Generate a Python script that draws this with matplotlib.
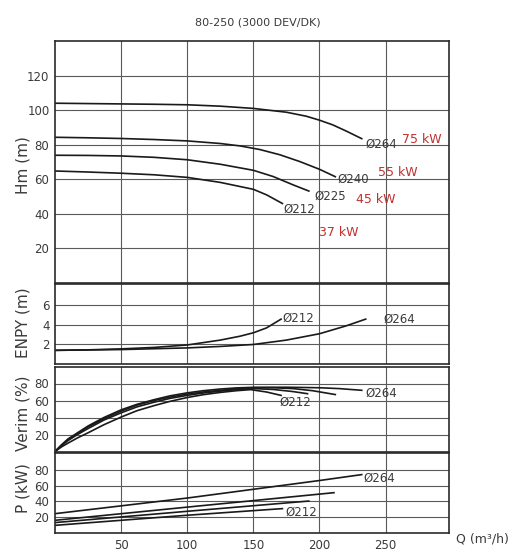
import matplotlib
matplotlib.use("Agg")
import matplotlib.pyplot as plt

# x axis
q_ticks = [50, 100, 150, 200, 250]

# head curves (Hm)
q_h264 = [0, 25, 50, 75, 100, 125, 150, 175, 190, 200, 210, 220, 232]
h_264 = [104, 103.8, 103.6, 103.4, 103.1, 102.3, 101.0, 98.8, 96.5, 94.2, 91.5, 88.0, 83.5]
q_h240 = [0, 25, 50, 75, 100, 125, 140, 155, 170, 185, 200, 212]
h_240 = [84.3, 84.0, 83.6, 83.0, 82.2, 80.7, 79.3, 77.2, 74.2, 70.3, 65.8, 61.5]
q_h225 = [0, 25, 50, 75, 100, 125, 150, 165, 180, 192]
h_225 = [73.9, 73.8, 73.5, 72.7, 71.3, 68.7, 65.2, 61.6, 56.8, 53.2]
q_h212 = [0, 25, 50, 75, 100, 125, 150, 160, 172]
h_212 = [64.8, 64.2, 63.5, 62.6, 61.1, 58.2, 54.2, 51.0, 46.0]

# NPSH
q_n212 = [0, 25, 50, 75, 100, 125, 140, 150, 160, 171]
n_212 = [1.4, 1.45, 1.55, 1.7, 1.95, 2.45, 2.85, 3.2, 3.7, 4.6]
q_n264 = [0, 50, 100, 125, 150, 175, 200, 220, 235]
n_264 = [1.4, 1.48, 1.65, 1.8, 2.0, 2.45, 3.1, 3.9, 4.6]

# efficiency
q_e212 = [0, 5, 10, 17, 25, 37, 50, 62, 75, 87, 100, 112, 125, 137, 148, 160, 171]
e_212 = [0, 5.5, 10, 16, 22, 31.5, 40.5, 48, 54, 59, 63.5, 66.8, 69.5, 71.5, 72.8, 70, 66]
q_e225 = [0, 5, 10, 17, 25, 37, 50, 62, 75, 87, 100, 112, 125, 137, 150, 165, 180, 191]
e_225 = [0, 7, 13, 20, 27, 37, 45.5, 52.5, 58, 62.5, 66, 68.8, 71, 72.8, 74, 73, 70.5, 68]
q_e240 = [0, 5, 10, 17, 25, 37, 50, 62, 75, 87, 100, 112, 125, 137, 150, 165, 180, 195, 212]
e_240 = [0, 7.5, 14, 21, 29, 38.5, 47.5, 54.5, 60, 64, 67.5, 70, 72, 73.8, 75, 75, 74, 71.5, 67]
q_e264 = [0, 5, 10, 17, 25, 37, 50, 62, 75, 87, 100, 112, 125, 137, 150, 175, 200, 215, 232]
e_264 = [0, 8, 15, 22, 30, 40, 49, 55.5, 61, 65.5, 69, 71.5, 73.5, 74.8, 75.5, 75.6, 75, 74, 72]

# power
q_p264 = [0, 100, 200, 232]
p_264 = [24.5, 44.3, 66.5, 74]
q_p240 = [0, 100, 211]
p_240 = [16.1, 32.8, 51.1]
q_p225 = [0, 100, 192]
p_225 = [13.2, 27.5, 40.5]
q_p212 = [0, 100, 172]
p_212 = [9.7, 22.5, 30.9]

dia = "\u00d8"
txt = "#3a3a3a"
red = "#c0302e"

fig = plt.figure(figsize=(5.31, 5.53), dpi=100)

W, H = 531, 553
def box(top, bottom, left=55, right=449):
    return [left / W, 1 - bottom / H, (right - left) / W, (bottom - top) / H]

ax1 = fig.add_axes(box(41, 283))
ax2 = fig.add_axes(box(284, 364))
ax3 = fig.add_axes(box(366.5, 451.5))
ax4 = fig.add_axes(box(453.3, 533))

setup = [
    (ax1, (0, 140), [20, 40, 60, 80, 100, 120]),
    (ax2, (0, 8.2), [2, 4, 6]),
    (ax3, (0, 100), [20, 40, 60, 80]),
    (ax4, (0, 101), [20, 40, 60, 80]),
]
for ax, ylim, yt in setup:
    ax.set_xlim(0, 298)
    ax.set_ylim(*ylim)
    ax.set_xticks(q_ticks)
    ax.set_yticks(yt)
    ax.grid(True, color="#5a5a5a", lw=0.8)
    ax.set_axisbelow(True)
    ax.tick_params(length=0, pad=4, labelsize=8.5, colors=txt)
    for s in ax.spines.values():
        s.set_color("#2a2a2a")
        s.set_linewidth(1.2)
    if ax is not ax4:
        ax.set_xticklabels([])

lk = dict(color="#1a1a1a", lw=1.2)
tk = dict(fontsize=8.5, color=txt, va="center", ha="left")
rk = dict(fontsize=9, color=red, va="center", ha="left")

ax1.plot(q_h264, h_264, **lk)
ax1.plot(q_h240, h_240, **lk)
ax1.plot(q_h225, h_225, **lk)
ax1.plot(q_h212, h_212, **lk)
ax1.text(235, 80.5, dia + "264", **tk)
ax1.text(214, 60.2, dia + "240", **tk)
ax1.text(196, 50, dia + "225", **tk)
ax1.text(172.5, 42.5, dia + "212", **tk)
ax1.text(262.5, 83, "75 kW", **rk)
ax1.text(244, 64.1, "55 kW", **rk)
ax1.text(228, 48.5, "45 kW", **rk)
ax1.text(200, 29.1, "37 kW", **rk)

ax2.plot(q_n212, n_212, **lk)
ax2.plot(q_n264, n_264, **lk)
ax2.text(172, 4.7, dia + "212", **tk)
ax2.text(248.5, 4.6, dia + "264", **tk)

ax3.plot(q_e212, e_212, **lk)
ax3.plot(q_e225, e_225, **lk)
ax3.plot(q_e240, e_240, **lk)
ax3.plot(q_e264, e_264, **lk)
ax3.text(235, 69, dia + "264", **tk)
ax3.text(170, 57.6, dia + "212", **tk)

ax4.plot(q_p264, p_264, **lk)
ax4.plot(q_p240, p_240, **lk)
ax4.plot(q_p225, p_225, **lk)
ax4.plot(q_p212, p_212, **lk)
ax4.text(233.5, 70, dia + "264", **tk)
ax4.text(174, 26.6, dia + "212", **tk)

fig.text(258 / W, 1 - 22.5 / H, "80-250 (3000 DEV/DK)", fontsize=8,
         color=txt, ha="center", va="center")
for label, yc in [("Hm (m)", 165), ("ENPY (m)", 323), ("Verim (%)", 413), ("P (kW)", 488)]:
    fig.text(23 / W, 1 - yc / H, label, fontsize=11, color=txt, rotation=90,
             ha="center", va="center")
fig.text(456 / W, 1 - 538.5 / H, "Q (m\u00b3/h)", fontsize=9, color=txt,
         ha="left", va="center")

fig.savefig("out.png", dpi=100)
